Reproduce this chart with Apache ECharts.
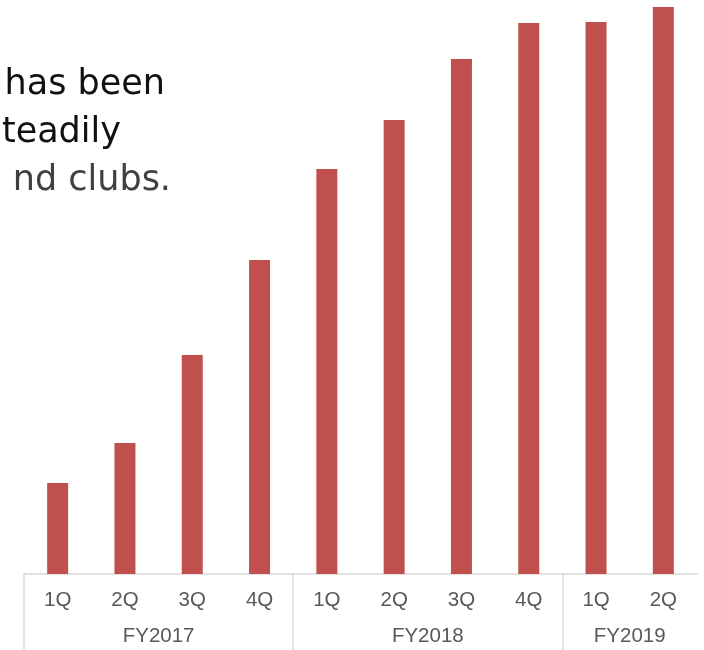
<!DOCTYPE html>
<html>
<head>
<meta charset="utf-8">
<style>
  html, body { margin: 0; padding: 0; background: #fff; }
  #chart { width: 704px; height: 650px; }
</style>
<script src="https://cdn.jsdelivr.net/npm/echarts@6/dist/echarts.min.js"></script>
</head>
<body>
<div id="chart"></div>
<script>
// quarters and fiscal years (bottom two-level axis)
const quarters = ['1Q', '2Q', '3Q', '4Q', '1Q', '2Q', '3Q', '4Q', '1Q', '2Q']
const years = ['FY2017', 'FY2018', 'FY2019']
const quartersPerYear = [4, 4, 2]
// bar heights (relative units)
const members = [91, 131, 219, 314, 405, 454, 515, 551, 552, 567]

// second axis runs over the category boundaries (0..10), year label in the middle of each span
const yearSlots = new Array(quarters.length + 1).fill('')
const yearEdges = [0]
let pos = 0
years.forEach((y, i) => {
  const n = quartersPerYear[i]
  yearSlots[pos + n / 2] = y
  pos += n
  if (pos < quarters.length) yearEdges.push(pos)
})

const textFont = '35px "DejaVu Sans"'

const chart = echarts.init(document.getElementById('chart'))
chart.setOption({
  animation: false,
  grid: { left: 24, right: 7, top: 0, bottom: 76, containLabel: false },
  xAxis: [
    {
      type: 'category',
      data: quarters,
      axisLine: { lineStyle: { color: '#D9D9D9', width: 1.5 } },
      axisTick: { show: false },
      axisLabel: {
        color: '#595959',
        fontSize: 20.5,
        fontFamily: 'Liberation Sans',
        margin: 16,
        interval: 0
      }
    },
    {
      type: 'category',
      position: 'bottom',
      boundaryGap: false,
      data: yearSlots,
      axisLine: { show: false },
      axisTick: {
        show: true,
        length: 80,
        interval: (i) => yearEdges.indexOf(i) >= 0,
        lineStyle: { color: '#D9D9D9', width: 1.5 }
      },
      axisLabel: {
        color: '#595959',
        fontSize: 20.5,
        fontFamily: 'Liberation Sans',
        margin: 52,
        interval: (i, v) => v !== '',
        hideOverlap: false
      }
    }
  ],
  yAxis: {
    type: 'value',
    min: 0,
    max: 574,
    show: false,
    splitLine: { show: false }
  },
  graphic: [
    {
      type: 'text', x: 165, y: 85,
      style: { text: 'has been', align: 'right', verticalAlign: 'middle', fill: '#111', font: textFont }
    },
    {
      type: 'text', x: 121, y: 133,
      style: { text: 'teadily', align: 'right', verticalAlign: 'middle', fill: '#111', font: textFont }
    },
    {
      type: 'text', x: 171, y: 181,
      style: { text: 'nd clubs.', align: 'right', verticalAlign: 'middle', fill: '#404040', font: textFont }
    }
  ],
  series: [
    {
      type: 'bar',
      data: members,
      barWidth: 21,
      itemStyle: { color: '#C0504D' }
    }
  ]
})
</script>
</body>
</html>
